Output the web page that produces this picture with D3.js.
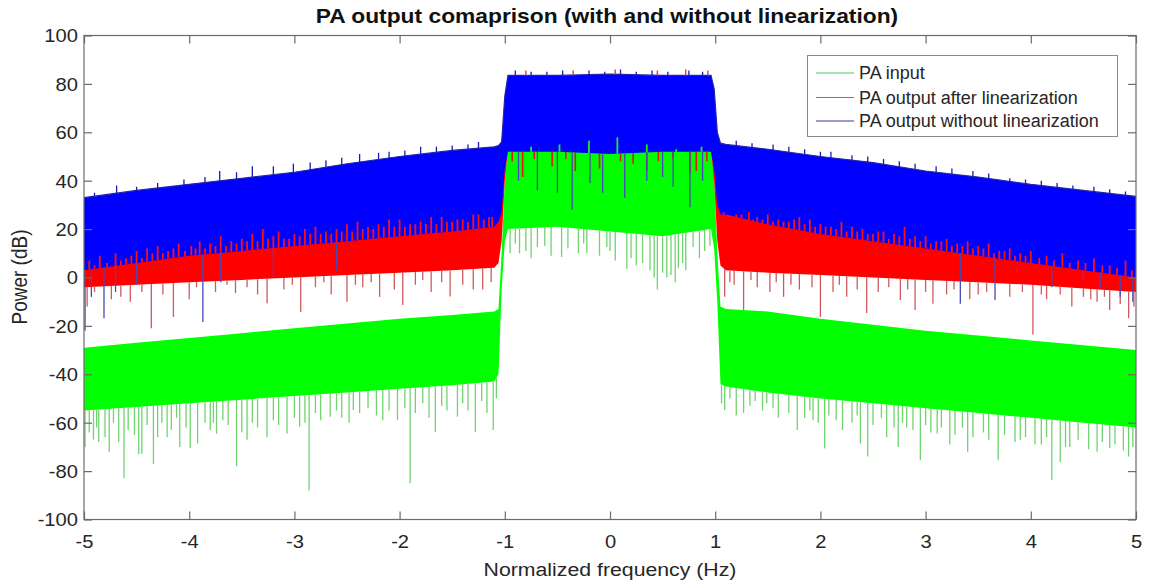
<!DOCTYPE html>
<html><head><meta charset="utf-8">
<script src="https://cdn.jsdelivr.net/npm/d3@7/dist/d3.min.js"></script>
<style>body{margin:0;background:#fff}svg{display:block;font-family:"Liberation Sans",Arial,sans-serif}</style>
</head><body><svg id="c" width="1151" height="587"></svg>
<script>
// ---- data ----
const freqGrid = [-5,-4.5,-4,-3.5,-3,-2.5,-2,-1.5,-1.1,-1.06,-1.03,-1.0,-0.97,-0.5,0,0.5,0.96,0.99,1.02,1.05,1.1,1.5,2,2.5,3,3.5,4,4.5,5];
const blueHi  = [33,36,38.5,41,43.5,47,50,52.5,54,54.5,56,75,83.5,83.5,84,83.5,83.5,78,60,55.5,55,53,50,47.5,44,41.5,38.5,36,33.5];
const blueLo  = [3,6,9,11,13,15,17,19,21,23,27,45,52,52,51,52,52,45,30,26,26,22,18,15,12,9,6,3,0];
const redHi   = [28,31,34,36,38,42,45,48,50,51,53,72,82,82,82,82,82,75,57,52,52,50,47,44,41,38,35,32,30];
const redLo   = [-4,-3,-2,-1,0,1,2,3,4,6,15,40,53,53,53,53,53,40,15,5,3,2,1,0,-1,-2,-3,-4.5,-6];
const greenHi = [-29,-27,-25,-23,-21,-19,-17,-15.5,-14,-13,10,40,54,54,54,54,54,42,10,-12,-13,-14,-17,-19.5,-22,-24,-26,-28,-30];
const greenLo = [-55,-53.5,-52,-50.5,-49,-47.5,-46,-44.5,-43,-40,-5,15,20,21,19,17,20,12,-10,-44,-45,-47.5,-50,-52,-54,-56,-58,-60,-62];

const greenDips = [[-4.99,-70],[-4.95,-64],[-4.91,-67],[-4.88,-62],[-4.86,-68],[-4.8,-66],[-4.76,-72],[-4.72,-60],[-4.67,-68],[-4.62,-83],[-4.58,-63],[-4.52,-65],[-4.48,-73],[-4.45,-72.8],[-4.4,-61],[-4.34,-77],[-4.3,-66],[-4.26,-60],[-4.21,-66],[-4.17,-63],[-4.12,-58],[-4.09,-70],[-4.03,-62],[-3.99,-70.6],[-3.92,-68.6],[-3.85,-60],[-3.8,-63],[-3.77,-60],[-3.74,-64.5],[-3.68,-59],[-3.63,-61],[-3.55,-78],[-3.5,-64],[-3.45,-67],[-3.4,-60],[-3.35,-62],[-3.26,-66],[-3.2,-59],[-3.15,-61],[-3.07,-64.5],[-3.0,-58],[-2.95,-61.7],[-2.9,-60],[-2.86,-88],[-2.8,-56],[-2.75,-59],[-2.66,-57.5],[-2.6,-55],[-2.55,-58],[-2.48,-60],[-2.44,-54.8],[-2.38,-56],[-2.3,-54],[-2.22,-57],[-2.16,-59],[-2.1,-55],[-2.02,-59],[-1.95,-54],[-1.9,-85],[-1.85,-56],[-1.78,-52],[-1.72,-58],[-1.66,-63.8],[-1.6,-53],[-1.55,-55],[-1.45,-57.5],[-1.4,-52],[-1.35,-55],[-1.28,-63.8],[-1.22,-51],[-1.17,-56],[-1.11,-63],[-1.08,-50],
 [1.06,-52],[1.09,-54.8],[1.14,-50],[1.2,-57],[1.27,-56],[1.33,-53],[1.38,-51],[1.45,-55],[1.49,-52],[1.55,-54],[1.6,-58],[1.7,-56],[1.78,-63],[1.85,-58],[1.9,-55],[1.93,-59],[1.98,-60],[2.04,-70.6],[2.08,-57],[2.15,-59],[2.21,-63],[2.3,-60],[2.35,-57],[2.38,-68.6],[2.45,-74],[2.5,-61],[2.58,-58],[2.63,-66],[2.7,-62],[2.74,-70],[2.78,-60],[2.82,-62],[2.88,-63],[2.95,-75.5],[3.0,-61],[3.05,-64],[3.11,-64.5],[3.15,-62],[3.23,-69],[3.28,-65],[3.35,-62],[3.4,-72],[3.45,-66],[3.55,-64],[3.6,-67],[3.69,-75.5],[3.75,-65],[3.85,-68],[3.9,-67],[3.95,-66],[4.04,-69],[4.1,-69],[4.15,-66],[4.2,-83.7],[4.28,-76.3],[4.33,-70],[4.37,-70],[4.45,-67],[4.55,-71],[4.63,-72],[4.68,-68],[4.75,-70.6],[4.8,-69],[4.88,-71.5],[4.93,-74],[4.97,-70],
 [-0.95,10],[-0.9,14],[-0.86,10],[-0.8,11],[-0.75,8],[-0.69,12.6],[-0.62,13],[-0.56,9],[-0.46,8.5],[-0.4,12],[-0.3,10],[-0.25,14],[-0.22,10],[-0.1,9],[-0.03,12.6],[0.0,11],[0.05,7],[0.16,3.5],[0.2,8],[0.25,5],[0.31,6],[0.38,3],[0.42,0],[0.45,-5],[0.5,2],[0.54,0],[0.58,1],[0.62,-2],[0.65,4],[0.69,6],[0.72,3],[0.79,12.6],[0.85,8],[0.9,11],[0.95,13]];

const redDips = [[-4.97,-12],[-4.9,-6],[-4.74,-9],[-4.65,-8],[-4.56,-10],[-4.45,-6],[-4.36,-21],[-4.25,-7],[-4.15,-16.3],[-4.0,-9],[-3.93,-4],[-3.75,-6],[-3.64,-3],[-3.56,-6.4],[-3.45,-4],[-3.35,-7],[-3.26,-10.6],[-3.1,-5],[-3.02,-3],[-2.94,-14.3],[-2.8,-4],[-2.72,-2],[-2.65,-7],[-2.5,-10],[-2.42,-3],[-2.35,-4],[-2.27,-2],[-2.19,-8],[-2.05,-5],[-1.97,-11.4],[-1.85,-3],[-1.78,-1],[-1.7,-6],[-1.6,-2],[-1.52,-7.9],[-1.4,-3],[-1.3,-5],[-1.21,-5],[-1.13,-2],
 [1.09,-8],[1.14,-2],[1.18,-3],[1.27,-13.4],[1.34,-1],[1.4,-4],[1.52,-6],[1.58,-2],[1.65,-8],[1.72,-3],[1.8,-5],[1.92,-4],[2.0,-16.3],[2.12,-6],[2.18,-3],[2.25,-8],[2.35,-5],[2.44,-14.7],[2.55,-6],[2.65,-4],[2.76,-9.3],[2.83,-5],[2.9,-13.4],[3.0,-6],[3.07,-10.8],[3.2,-7],[3.27,-5],[3.42,-9],[3.5,-7],[3.58,-6],[3.8,-8],[3.92,-6],[4.02,-23.6],[4.1,-7],[4.15,-9],[4.28,-7],[4.39,-12],[4.5,-8],[4.57,-9],[4.63,-10],[4.7,-8],[4.75,-13.4],[4.85,-11],[4.93,-16.8],[4.98,-12]];

const redBandDips = [[-0.93,48],[-0.83,41.5],[-0.72,49],[-0.55,46],[-0.42,49],[-0.33,44],[-0.1,45],[0.1,48],[0.22,47],[0.35,44],[0.46,48],[0.6,49],[0.76,43],[0.82,44],[0.92,48]];

const redTips = [[-4.95,7],[-4.9,5],[-4.85,9],[-4.78,6],[-4.7,10],[-4.65,7],[-4.6,8],[-4.55,9],[-4.5,11],[-4.45,8],[-4.4,12],[-4.35,10],[-4.3,13],[-4.25,10],[-4.2,11],[-4.15,12],[-4.1,14],[-4.04,11],[-3.98,13],[-3.94,12],[-3.9,15],[-3.85,12],[-3.8,14],[-3.75,13],[-3.7,17],[-3.65,13],[-3.6,15],[-3.55,14],[-3.5,16],[-3.45,15],[-3.4,18],[-3.35,15],[-3.3,20],[-3.25,16],[-3.2,17],[-3.15,19],[-3.1,16],[-3.05,16],[-3.0,18],[-2.95,17],[-2.9,20],[-2.85,18],[-2.8,21],[-2.75,18],[-2.7,19],[-2.65,18],[-2.6,20],[-2.55,19],[-2.5,22],[-2.45,19],[-2.4,23],[-2.35,20],[-2.3,21],[-2.25,20],[-2.2,22],[-2.15,21],[-2.1,24],[-2.05,21],[-2.0,24],[-1.95,21],[-1.9,22],[-1.85,22],[-1.8,23],[-1.75,22],[-1.7,25],[-1.65,22],[-1.6,25],[-1.55,23],[-1.5,23],[-1.45,24],[-1.4,24],[-1.35,23],[-1.3,26],[-1.25,26],[-1.2,24],[-1.15,25],[-1.12,25],
 [1.08,27],[1.12,25],[1.15,25],[1.2,26],[1.25,26],[1.28,24],[1.32,27],[1.36,24],[1.4,25],[1.45,24],[1.5,26],[1.55,23],[1.6,24],[1.65,23],[1.7,23],[1.75,24],[1.8,25],[1.85,22],[1.9,24],[1.95,21],[2.0,22],[2.05,21],[2.1,21],[2.15,20],[2.2,23],[2.25,19],[2.3,21],[2.35,19],[2.4,20],[2.45,18],[2.5,18],[2.55,19],[2.6,19],[2.65,16],[2.7,18],[2.75,17],[2.8,21],[2.85,16],[2.9,17],[2.95,15],[3.0,17],[3.05,14],[3.1,15],[3.15,15],[3.2,16],[3.25,13],[3.3,14],[3.35,13],[3.4,15],[3.45,12],[3.5,13],[3.55,12],[3.6,14],[3.65,10],[3.7,11],[3.75,11],[3.8,12],[3.85,9],[3.9,10],[3.95,9],[4.0,11],[4.08,8],[4.15,9],[4.22,7],[4.3,10],[4.37,6],[4.45,7],[4.52,6],[4.6,8],[4.68,5],[4.75,5],[4.82,4],[4.9,7],[4.96,3]];

const redBandTips = [[-0.8,85.5],[-0.35,85.5],[0.05,86],[0.45,85.5],[0.72,86],[0.93,85.5]];

const blueDips = [[-4.99,-22],[-4.93,-8],[-4.81,-16.8],[-4.7,-6],[-4.5,-3],[-3.87,-18.4],[-3.7,-2],[-3.2,0],[-2.6,3],[3.33,-10.8],[3.66,-9.3],[4.2,-4],[4.5,-2],[4.66,-4],[4.85,-8],[4.97,-10],
 [-0.87,40],[-0.69,36],[-0.5,35],[-0.36,28],[-0.19,39],[-0.07,35],[0.14,33],[0.35,40],[0.5,41.5],[0.6,37.5],[0.76,29],[0.88,40]];

const blueTips = [[-4.9,35],[-4.69,38],[-4.5,37.5],[-4.3,39],[-4.05,40.5],[-3.85,41.5],[-3.71,44],[-3.55,43.5],[-3.4,46],[-3.2,46],[-3.01,47],[-2.85,47.5],[-2.7,48.5],[-2.55,49.5],[-2.38,51],[-2.2,51.5],[-2.1,52],[-1.95,52.5],[-1.8,54],[-1.65,54],[-1.5,54.5],[-1.35,55],[-1.25,56],
 [1.2,56.5],[1.35,55.5],[1.55,55],[1.7,54],[1.85,53],[2.0,52],[2.1,52],[2.3,50.5],[2.45,50],[2.6,49],[2.75,48],[2.9,47],[3.1,46],[3.25,45],[3.45,44],[3.6,43],[3.8,41],[3.95,40.5],[4.1,40],[4.25,39],[4.4,38],[4.6,37.5],[4.75,36.5],[4.9,35.5],
 [-0.9,85.5],[-0.75,85],[-0.6,85],[-0.45,85.5],[-0.2,85.5],[-0.05,85],[0.1,86],[0.25,85],[0.4,85.5],[0.55,85],[0.75,85.5],[0.88,85]];

const greenTips = [[-0.9,52],[-0.75,54],[-0.48,55],[-0.2,56.5],[0.07,58],[0.35,55],[0.63,53],[0.87,54]];

const xTicks = [-5,-4,-3,-2,-1,0,1,2,3,4,5];
const yTicks = [-100,-80,-60,-40,-20,0,20,40,60,80,100];
const seriesNames = ["PA input","PA output after linearization","PA output without linearization"];
const legendColors = ["#55cc55","#cc5555","#3a3a9a"];
const titleText = "PA output comaprison (with and without linearization)";
const xLabel = "Normalized frequency (Hz)";
const yLabel = "Power (dB)";

// ---- drawing ----
const svg = d3.select("#c");
const L=84, R=1136, T=35.5, B=519.5;
const x = d3.scaleLinear().domain([-5,5]).range([L,R]);
const y = d3.scaleLinear().domain([-100,100]).range([B,T]);

svg.append("defs").append("clipPath").attr("id","clip").append("rect")
  .attr("x",L).attr("y",T).attr("width",R-L).attr("height",B-T);
const plot = svg.append("g").attr("clip-path","url(#clip)");

function pts(hi,lo){ return freqGrid.map((f,i)=>({f:f,hi:hi[i],lo:lo[i]})); }
const area = d3.area().x(d=>x(d.f)).y0(d=>y(d.lo)).y1(d=>y(d.hi));
const topLine = d3.line().x(d=>x(d.f)).y(d=>y(d.hi));
const interp = arr => d3.scaleLinear().domain(freqGrid).range(arr);
const gLo = interp(greenLo), rLo = interp(redLo), bLo = interp(blueLo), bHi = interp(blueHi);

function spikes(data, base, color, w){
  plot.append("g").selectAll("line").data(data).join("line")
    .attr("x1",d=>x(d[0])).attr("x2",d=>x(d[0]))
    .attr("y1",d=>y(base(d[0]))).attr("y2",d=>y(d[1]))
    .attr("stroke",color).attr("stroke-width",w);
}

// green (PA input)
plot.append("path").datum(pts(greenHi,greenLo)).attr("d",area).attr("fill","#00ff00");
spikes(greenDips, gLo, "#6fd46f", 1.3);
// red (after linearization)
plot.append("path").datum(pts(redHi,redLo)).attr("d",area).attr("fill","#ff0000");
spikes(redDips, rLo, "#cf5a5e", 1.3);
// blue (without linearization)
plot.append("path").datum(pts(blueHi,blueLo)).attr("d",area).attr("fill","#0000ff");
plot.append("path").datum(pts(blueHi,blueLo)).attr("d",topLine).attr("fill","none").attr("stroke","#2424a8").attr("stroke-width",1.2);
spikes(redBandDips, bLo, "#e01818", 1.6);
spikes(blueDips, bLo, "#4848b8", 1.3);
spikes(redTips, bLo, "#ff1010", 1.8);
spikes(blueTips, bHi, "#1a1ab4", 1.3);
spikes(redBandTips, bHi, "#e04848", 1.5);
spikes(greenTips, bLo, "#22e822", 1.8);

// axes box and ticks
const axCol = "#6b6b6b", txtCol = "#262626";
svg.append("rect").attr("x",L).attr("y",T).attr("width",R-L).attr("height",B-T)
  .attr("fill","none").attr("stroke",axCol).attr("stroke-width",1.2);

const fmt = d => String(d);
const xa = svg.append("g").attr("transform",`translate(0,${B})`)
  .call(d3.axisBottom(x).tickValues(xTicks).tickSizeInner(-8).tickSizeOuter(0).tickFormat(fmt));
const ya = svg.append("g").attr("transform",`translate(${L},0)`)
  .call(d3.axisLeft(y).tickValues(yTicks).tickSizeInner(-8).tickSizeOuter(0).tickFormat(fmt));
const xt = svg.append("g").attr("transform",`translate(0,${T})`)
  .call(d3.axisTop(x).tickValues(xTicks).tickSizeInner(-8).tickSizeOuter(0).tickFormat(""));
const yr = svg.append("g").attr("transform",`translate(${R},0)`)
  .call(d3.axisRight(y).tickValues(yTicks).tickSizeInner(-8).tickSizeOuter(0).tickFormat(""));
[xa,ya,xt,yr].forEach(a=>{ a.select(".domain").remove(); a.selectAll("line").attr("stroke",axCol).attr("stroke-width",1.2); });
xa.selectAll("text").attr("font-size",18).attr("fill",txtCol).attr("font-family","Liberation Sans, Arial, sans-serif")
  .attr("y",0).attr("dy",0).attr("transform","translate(0,28) scale(1.12,1)");
ya.selectAll("text").attr("font-size",18).attr("fill",txtCol).attr("font-family","Liberation Sans, Arial, sans-serif")
  .attr("x",0).attr("dy","0.36em").attr("transform","translate(-6,0) scale(1.12,1)");

// title & labels
svg.append("text").attr("transform","translate(607,23) scale(1.14,1)").attr("text-anchor","middle")
  .attr("font-size",20).attr("font-weight","bold").attr("fill","#111").text(titleText);
svg.append("text").attr("transform","translate(610,576) scale(1.12,1)").attr("text-anchor","middle")
  .attr("font-size",19).attr("fill",txtCol).text(xLabel);
svg.append("text").attr("transform","translate(27,277) rotate(-90) scale(1,1.12)").attr("text-anchor","middle")
  .attr("font-size",19).attr("fill",txtCol).text(yLabel);

// legend
const lg = svg.append("g");
lg.append("rect").attr("x",807.5).attr("y",55.5).attr("width",310).attr("height",81)
  .attr("fill","#fff").attr("stroke","#8a8a8a").attr("stroke-width",1);
const rows = [73,97.5,121];
seriesNames.forEach((n,i)=>{
  lg.append("line").attr("x1",816).attr("x2",854).attr("y1",rows[i]).attr("y2",rows[i])
    .attr("stroke",legendColors[i]).attr("stroke-width",1.2);
  lg.append("text").attr("x",859).attr("y",rows[i]).attr("dy","0.35em").attr("font-size",18)
    .attr("fill",txtCol).text(n);
});
</script></body></html>
